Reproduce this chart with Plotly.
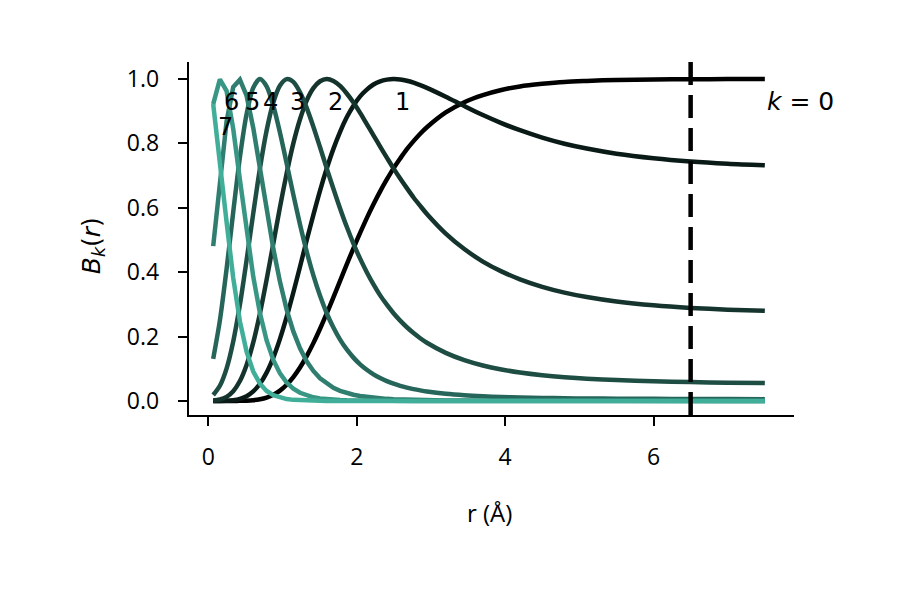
import plotly.graph_objects as go

# r grid (Å)
r = [0.066, 0.156, 0.246, 0.336, 0.426, 0.516, 0.606, 0.696, 0.786, 0.876,
     0.966, 1.056, 1.146, 1.236, 1.326, 1.416, 1.506, 1.596, 1.686, 1.776,
     1.866, 1.956, 2.046, 2.136, 2.226, 2.316, 2.406, 2.496, 2.586, 2.676,
     2.766, 2.856, 2.946, 3.2, 3.45, 3.7, 3.95, 4.2, 4.5, 4.8,
     5.1, 5.5, 6.0, 6.5, 7.0, 7.5]

B0 = [0.0, 0.0, 0.0, 0.0001, 0.0004, 0.001, 0.0025, 0.0055, 0.0108, 0.0194,
      0.0323, 0.0504, 0.0742, 0.1038, 0.1392, 0.1797, 0.2244, 0.272, 0.322, 0.373,
      0.424, 0.474, 0.522, 0.568, 0.611, 0.651, 0.688, 0.7225, 0.753, 0.782,
      0.807, 0.83, 0.85, 0.896, 0.928, 0.95, 0.966, 0.977, 0.985, 0.991,
      0.994, 0.997, 0.9985, 0.9993, 0.9997, 0.9999]
B1 = [0.0, 0.0002, 0.0009, 0.0026, 0.0067, 0.0149, 0.0298, 0.0536, 0.0882, 0.1348,
      0.193, 0.261, 0.337, 0.417, 0.499, 0.578, 0.6535, 0.722, 0.783, 0.836,
      0.881, 0.917, 0.946, 0.967, 0.983, 0.993, 0.998, 1.0, 0.9986, 0.9946,
      0.9886, 0.981, 0.9726, 0.945, 0.916, 0.888, 0.863, 0.841, 0.818, 0.799,
      0.784, 0.768, 0.754, 0.744, 0.737, 0.732]
B2 = [0.0014, 0.0047, 0.0129, 0.0303, 0.0619, 0.1119, 0.182, 0.272, 0.377, 0.489,
      0.602, 0.707, 0.8, 0.875, 0.933, 0.9715, 0.993, 1.0, 0.994, 0.9785,
      0.955, 0.927, 0.895, 0.86, 0.825, 0.79, 0.756, 0.7225, 0.691, 0.661,
      0.632, 0.606, 0.581, 0.52, 0.472, 0.433, 0.4025, 0.378, 0.3546, 0.3367,
      0.3228, 0.309, 0.297, 0.289, 0.2837, 0.28]
B3 = [0.0187, 0.0473, 0.1006, 0.185, 0.299, 0.437, 0.583, 0.7222, 0.84, 0.927,
      0.98, 0.9997, 0.991, 0.959, 0.9105, 0.852, 0.788, 0.7225, 0.659, 0.598,
      0.541, 0.489, 0.442, 0.4, 0.362, 0.328, 0.299, 0.2725, 0.2495, 0.229,
      0.211, 0.195, 0.181, 0.1495, 0.127, 0.1104, 0.098, 0.0886, 0.0802, 0.074,
      0.0694, 0.0649, 0.0611, 0.0587, 0.057, 0.0559]
B4 = [0.131, 0.25, 0.409, 0.587, 0.757, 0.891, 0.973, 1.0, 0.977, 0.917,
      0.833, 0.738, 0.641, 0.548, 0.464, 0.39, 0.3265, 0.2725, 0.228, 0.1906,
      0.16, 0.1347, 0.1139, 0.0969, 0.0828, 0.0713, 0.0617, 0.0537, 0.047, 0.0415,
      0.0368, 0.0329, 0.0295, 0.0224, 0.0178, 0.0147, 0.0125, 0.0109, 0.0095, 0.0085,
      0.0078, 0.0071, 0.0066, 0.0062, 0.006, 0.0058]
B5 = [0.481, 0.692, 0.868, 0.975, 0.998, 0.948, 0.848, 0.723, 0.594, 0.4735,
      0.37, 0.284, 0.216, 0.1636, 0.1234, 0.0933, 0.0706, 0.0537, 0.0411, 0.0317,
      0.0247, 0.0194, 0.0153, 0.0123, 0.0099, 0.0081, 0.0066, 0.0055, 0.0046, 0.0039,
      0.0033, 0.0029, 0.0025, 0.0018, 0.0013, 0.001, 0.0008, 0.0007, 0.0006, 0.0005,
      0.0004, 0.0003, 0.0003, 0.0003, 0.0003, 0.0003]
B6 = [0.922, 0.9986, 0.963, 0.845, 0.687, 0.527, 0.386, 0.273, 0.188, 0.1276,
      0.0856, 0.0572, 0.0381, 0.0255, 0.0172, 0.0116, 0.008, 0.0055, 0.0039, 0.0028,
      0.002, 0.0015, 0.0011, 0.0008, 0.0006, 0.0004, 0.0003, 0.0002, 0.0001, 0.0001,
      0.0001, 0.0001, 0.0001, 0.0, 0.0, 0.0, 0.0, 0.0, 0.0, 0.0,
      0.0, 0.0, 0.0, 0.0, 0.0, 0.0]
B7 = [0.922, 0.753, 0.557, 0.382, 0.247, 0.153, 0.0917, 0.0538, 0.0312, 0.018,
      0.0104, 0.006, 0.0035, 0.0021, 0.0012, 0.0008, 0.0005, 0.0003, 0.0002, 0.0001,
      0.0001, 0.0001, 0.0, 0.0, 0.0, 0.0, 0.0, 0.0, 0.0, 0.0,
      0.0, 0.0, 0.0, 0.0, 0.0, 0.0, 0.0, 0.0, 0.0, 0.0,
      0.0, 0.0, 0.0, 0.0, 0.0, 0.0]

series = [B0, B1, B2, B3, B4, B5, B6, B7]
colors = ["#000000", "#0a1b17", "#14342d", "#1d4d43", "#266559",
          "#2f7e6f", "#389685", "#40ae98"]
smooth = [True, True, True, True, True, False, False, False]

label_text = ["1", "2", "3", "4", "5", "6", "7"]
label_x = [2.62, 1.72, 1.196, 0.837, 0.591, 0.308, 0.232]
label_y = [0.93, 0.93, 0.93, 0.93, 0.93, 0.93, 0.85]

cutoff = 6.5

fig = go.Figure()
for vals, col, sm in zip(series, colors, smooth):
    line = dict(color=col, width=4.5)
    if sm:
        line.update(shape="spline", smoothing=0.8)
    fig.add_trace(go.Scatter(x=r, y=vals, mode="lines", line=line,
                             showlegend=False, hoverinfo="skip"))

fig.add_shape(type="line", xref="x", yref="paper", x0=cutoff, x1=cutoff,
              y0=0, y1=1, line=dict(color="black", width=4.5, dash="23px,10px"),
              layer="above")

annots = []
for t, xx, yy in zip(label_text, label_x, label_y):
    annots.append(dict(x=xx, y=yy, xref="x", yref="y", text=t, showarrow=False,
                       xanchor="center", yanchor="middle",
                       font=dict(family="DejaVu Sans", size=24, color="black")))
annots.append(dict(x=7.5, y=0.93, xref="x", yref="y", text="<i>k</i> = 0",
                   showarrow=False, xanchor="left", yanchor="middle",
                   font=dict(family="DejaVu Sans", size=25, color="black")))
# axis titles
annots.append(dict(x=0.4975, y=-0.2748, xref="paper", yref="paper", text="r (Å)",
                   showarrow=False, xanchor="center", yanchor="middle",
                   font=dict(family="Open Sans", size=24, color="black")))
annots.append(dict(x=-0.1592, y=0.48, xref="paper", yref="paper",
                   text="<i>B</i><sub><i>k</i></sub>(<i>r</i>)", textangle=-90,
                   showarrow=False, xanchor="center", yanchor="middle",
                   font=dict(family="DejaVu Sans", size=25, color="black")))
fig.update_layout(annotations=annots)

font_fam = "Open Sans"
fig.update_layout(
    width=900, height=600,
    margin=dict(l=180.5, r=113.5, t=54, b=193),
    paper_bgcolor="white", plot_bgcolor="white",
    font=dict(family=font_fam, size=23, color="black"),
    hovermode=False,
    xaxis=dict(range=[-0.26, 7.893], tickvals=[0, 2, 4, 6], ticktext=["0", "2", "4", "6"],
               showgrid=False, zeroline=False, showline=True, linecolor="black",
               linewidth=2.4, ticks="outside", ticklen=9, tickwidth=2.4, tickcolor="black",
               ticklabelstandoff=11, tickfont=dict(size=23)),
    yaxis=dict(range=[-0.0435, 1.0528], tickvals=[0, 0.2, 0.4, 0.6, 0.8, 1.0],
               ticktext=["0.0", "0.2", "0.4", "0.6", "0.8", "1.0"],
               showgrid=False, zeroline=False, showline=True, linecolor="black",
               linewidth=2.4, ticks="outside", ticklen=9, tickwidth=2.4, tickcolor="black",
               ticklabelstandoff=14, tickfont=dict(size=23)),
)

fig.write_html("out.html")
